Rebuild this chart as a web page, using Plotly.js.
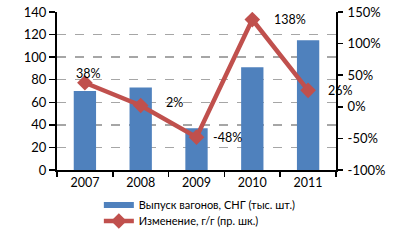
<!DOCTYPE html>
<html><head><meta charset="utf-8">
<script src="https://cdn.plot.ly/plotly-3.0.1.min.js"></script>
<style>html,body{margin:0;padding:0;background:#fff;}#chart{width:399px;height:242px;}</style>
</head><body><div id="chart"></div>
<script>
const years = ["2007","2008","2009","2010","2011"];
const output = [70, 73, 37, 91, 115];
const changePct = [38, 2, -48, 138, 26];
const changeLabels = ["38%","2%","-48%","138%","26%"];
const seriesNames = ["Выпуск вагонов, СНГ (тыс. шт.)", "Изменение, г/г (пр. шк.)"];
const leftTicks = [0,20,40,60,80,100,120,140];
const rightTicks = [-100,-50,0,50,100,150];
const rightTickText = ["-100%","-50%","0%","50%","100%","150%"];

// label offsets (style)
const labelShiftX = [4, 34, 31, 38, 32];
const labelShiftY = [9, 3, 0, 0, 0];

const blue = "#4F81BD", red = "#C0504D";
const font = "Lato, 'Open Sans', sans-serif";

const traces = [
  {type:"bar", x:years, y:output, marker:{color:blue}, width:0.4, showlegend:false, yaxis:"y", hoverinfo:"skip"},
  {type:"scatter", mode:"lines", x:[years[0]], y:[-1000], name:seriesNames[0], line:{color:blue, width:6}, yaxis:"y", legend:"legend"},
  {type:"scatter", mode:"lines+markers", x:years, y:changePct, name:seriesNames[1], yaxis:"y2", legend:"legend2",
   line:{color:red, width:4.5}, marker:{symbol:"diamond", size:12, color:red}}
];

const annotations = years.map((yr,i)=>({
  x: i, y: changePct[i], xref:"x", yref:"y2", text: changeLabels[i], showarrow:false,
  xshift: labelShiftX[i], yshift: labelShiftY[i], font:{family:font, size:12.5, color:"#000"}
}));

const H = 242, T = 12, B = 0, plotBottom = 170;
const dom0 = (H - B - plotBottom) / (H - T - B);
const py = px => (H - B - px) / (H - T - B);

const legendBase = {orientation:"v", xanchor:"left", yanchor:"middle",
  font:{size:11, family:font}, bgcolor:"rgba(0,0,0,0)", borderwidth:0};

const layout = {
  width:399, height:242,
  margin:{l:57, r:63, t:T, b:B, pad:0},
  paper_bgcolor:"#fff", plot_bgcolor:"#fff",
  font:{family:font, size:12, color:"#000"},
  bargap:0.6,
  xaxis:{type:"category", categoryorder:"array", categoryarray:years, range:[-0.5,4.5],
    showline:true, linecolor:"#000", linewidth:2, ticks:"outside", tickson:"boundaries",
    ticklen:5, tickcolor:"#000", tickwidth:1.5, showgrid:false, zeroline:false, tickfont:{size:12.5}, tickangle:0, automargin:false},
  yaxis:{domain:[dom0,1], range:[0,140], tickvals:leftTicks, showline:true, linecolor:"#000", linewidth:2, ticks:"outside",
    ticklen:6, tickcolor:"#000", tickwidth:1.5, showgrid:true, gridcolor:"#A6A6A6", griddash:"dash", gridwidth:1.5,
    zeroline:false, tickfont:{size:13}},
  yaxis2:{domain:[dom0,1], range:[-100,150], tickvals:rightTicks, ticktext:rightTickText, overlaying:"y", side:"right",
    showline:true, linecolor:"#000", linewidth:2, ticks:"outside", ticklen:5, tickcolor:"#000", tickwidth:1.5,
    showgrid:false, zeroline:false, tickfont:{size:13}, ticklabelstandoff:2},
  legend: Object.assign({}, legendBase, {x:0.15, y:py(205)}),
  legend2: Object.assign({}, legendBase, {x:0.15, y:py(221)}),
  annotations: annotations,
  showlegend:true
};

Plotly.newPlot("chart", traces, layout, {displayModeBar:false, staticPlot:true});
</script></body></html>
